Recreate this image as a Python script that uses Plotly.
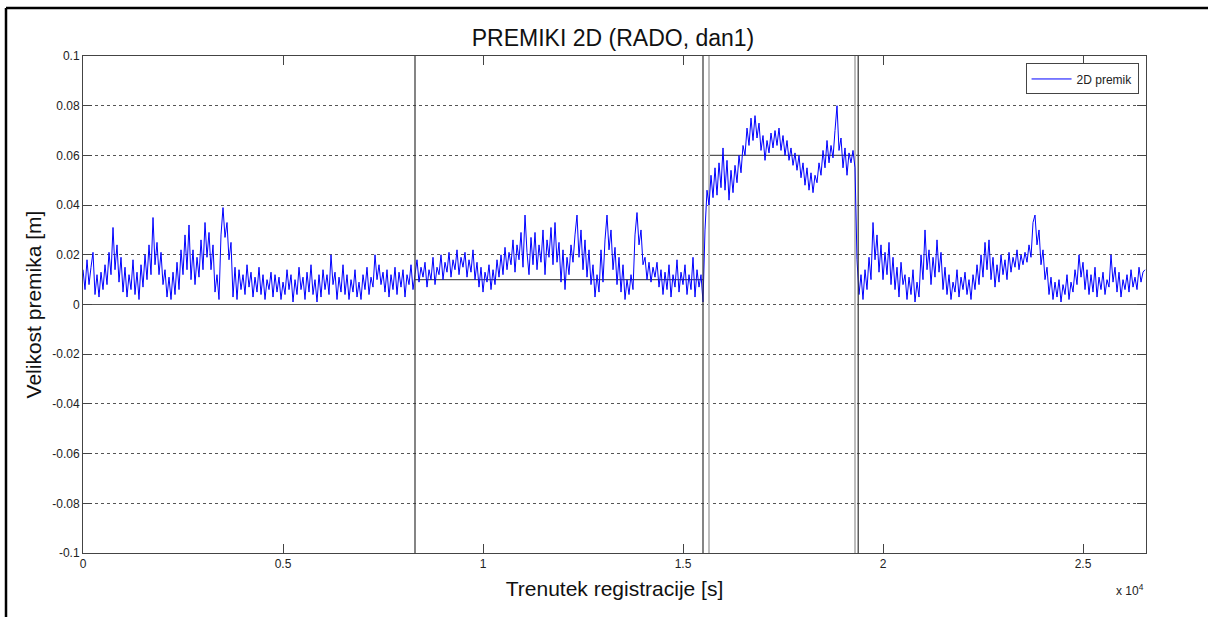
import numpy as np
import plotly.graph_objects as go

# ---- data ----
# sampling step of the displacement record [s]
STEP = 50

seg_a_start = 0
seg_a = [0.014, 0.006, 0.018, 0.008, 0.015, 0.021,
         0.004, 0.012, 0.003, 0.013, 0.006,
         0.016, 0.008, 0.021, 0.012, 0.031,
         0.014, 0.024, 0.009, 0.019, 0.005,
         0.015, 0.003, 0.012, 0.006, 0.018,
         0.004, 0.013, 0.002, 0.016, 0.007,
         0.020, 0.010, 0.024, 0.012, 0.035,
         0.016, 0.025, 0.012, 0.021, 0.008,
         0.014, 0.003, 0.011, 0.002, 0.013,
         0.004, 0.017, 0.006, 0.022, 0.012,
         0.028, 0.014, 0.032, 0.010, 0.022,
         0.008, 0.019, 0.011, 0.026, 0.014,
         0.033, 0.019, 0.029, 0.014, 0.024,
         0.005, 0.012, 0.002, 0.028, 0.039,
         0.027, 0.033, 0.018, 0.025, 0.003,
         0.015, 0.002, 0.014, 0.006, 0.012,
         0.004, 0.016, 0.007, 0.013, 0.003,
         0.011, 0.005, 0.015, 0.004, 0.012,
         0.002, 0.010, 0.006, 0.013, 0.003,
         0.012, 0.005, 0.011, 0.002, 0.009,
         0.004, 0.014, 0.006, 0.012, 0.001,
         0.010, 0.004, 0.015, 0.006, 0.011,
         0.002, 0.013, 0.005, 0.016, 0.004,
         0.010, 0.001, 0.012, 0.003, 0.014,
         0.006, 0.012, 0.004, 0.020, 0.008,
         0.013, 0.002, 0.011, 0.005, 0.016,
         0.004, 0.012, 0.002, 0.010, 0.005,
         0.014, 0.003, 0.009, 0.002, 0.012,
         0.006, 0.015, 0.004, 0.011, 0.007,
         0.020, 0.010, 0.016, 0.008, 0.013,
         0.005, 0.014, 0.003, 0.012, 0.006,
         0.015, 0.004, 0.013, 0.007, 0.014,
         0.003, 0.012, 0.008, 0.016, 0.006]

seg_b_start = 8300
seg_b = [0.012, 0.018, 0.009, 0.015, 0.011,
         0.017, 0.007, 0.014, 0.010, 0.019,
         0.008, 0.015, 0.012, 0.020, 0.010,
         0.017, 0.013, 0.021, 0.011, 0.018,
         0.014, 0.022, 0.012, 0.019, 0.015,
         0.021, 0.011, 0.018, 0.013, 0.022,
         0.010, 0.017, 0.007, 0.015, 0.005,
         0.013, 0.009, 0.016, 0.006, 0.014,
         0.008, 0.018, 0.011, 0.020, 0.012,
         0.023, 0.014, 0.021, 0.016, 0.026,
         0.013, 0.024, 0.018, 0.029, 0.015,
         0.036, 0.021, 0.012, 0.027, 0.016,
         0.029, 0.014, 0.024, 0.017, 0.030,
         0.012, 0.026, 0.019, 0.031, 0.016,
         0.033, 0.017, 0.025, 0.009, 0.022,
         0.006, 0.019, 0.012, 0.024, 0.017,
         0.028, 0.036, 0.019, 0.030, 0.014,
         0.026, 0.011, 0.022, 0.008, 0.016,
         0.003, 0.012, 0.005, 0.022, 0.009,
         0.026, 0.036, 0.022, 0.030, 0.014,
         0.023, 0.008, 0.019, 0.005, 0.016,
         0.002, 0.010, 0.004, 0.012, 0.006,
         0.028, 0.037, 0.024, 0.030, 0.016,
         0.019, 0.010, 0.017, 0.009, 0.015,
         0.011, 0.017, 0.007, 0.014, 0.004,
         0.013, 0.006, 0.016, 0.003, 0.012,
         0.007, 0.018, 0.005, 0.013, 0.008,
         0.016, 0.004, 0.012, 0.006, 0.019,
         0.003, 0.014, 0.007, 0.012, 0.001]

seg_c_start = 15550
seg_c = [0.030, 0.046, 0.040, 0.052, 0.043,
         0.055, 0.044, 0.057, 0.047, 0.063,
         0.046, 0.058, 0.042, 0.054, 0.045,
         0.056, 0.049, 0.060, 0.053, 0.064,
         0.060, 0.071, 0.064, 0.075, 0.066,
         0.076, 0.067, 0.073, 0.062, 0.068,
         0.058, 0.066, 0.061, 0.069, 0.063,
         0.070, 0.064, 0.071, 0.062, 0.068,
         0.060, 0.066, 0.058, 0.063, 0.056,
         0.061, 0.054, 0.060, 0.051, 0.057,
         0.048, 0.055, 0.046, 0.053, 0.045,
         0.052, 0.049, 0.057, 0.052, 0.062,
         0.055, 0.066, 0.057, 0.064, 0.059,
         0.070, 0.080, 0.062, 0.067, 0.055,
         0.063, 0.052, 0.061, 0.057, 0.062,
         0.055]

seg_d_start = 19350
seg_d = [0.018, 0.004, 0.012, 0.002, 0.014,
         0.006, 0.019, 0.010, 0.033, 0.018,
         0.028, 0.013, 0.024, 0.010, 0.021,
         0.012, 0.025, 0.008, 0.019, 0.006,
         0.015, 0.003, 0.017, 0.008, 0.012,
         0.002, 0.011, 0.004, 0.014, 0.001,
         0.009, 0.003, 0.020, 0.010, 0.030,
         0.014, 0.022, 0.008, 0.019, 0.011,
         0.026, 0.013, 0.021, 0.006, 0.015,
         0.004, 0.012, 0.002, 0.009, 0.005,
         0.014, 0.003, 0.011, 0.006, 0.013,
         0.004, 0.010, 0.002, 0.012, 0.006,
         0.016, 0.008, 0.020, 0.011, 0.025,
         0.014, 0.026, 0.010, 0.019, 0.007,
         0.016, 0.009, 0.020, 0.012, 0.018,
         0.010, 0.021, 0.013, 0.019, 0.015,
         0.022, 0.014, 0.020, 0.016, 0.021,
         0.017, 0.024, 0.019, 0.033, 0.036,
         0.024, 0.030, 0.016, 0.022, 0.010,
         0.015, 0.004, 0.011, 0.002, 0.009,
         0.003, 0.010, 0.001, 0.008, 0.004,
         0.012, 0.002, 0.009, 0.005, 0.014,
         0.008, 0.020, 0.011, 0.017, 0.006,
         0.014, 0.004, 0.012, 0.005, 0.015,
         0.003, 0.011, 0.006, 0.013, 0.004,
         0.010, 0.007, 0.020, 0.009, 0.015,
         0.005, 0.013, 0.003, 0.010, 0.006,
         0.012, 0.005, 0.014, 0.007, 0.011,
         0.006, 0.015, 0.009, 0.013, 0.014]

# reference levels between phase boundaries
dark_bounds = [8300, 15500, 19380]
grey_bounds = [15650, 19300]
level_x = [[0, 8300], [8300, 15500], [15650, 19380], [19380, 26575]]
level_y = [0.0, 0.01, 0.06, 0.0]

x_range = [0, 26575]
y_range = [-0.1, 0.1]
x_tickvals = [0, 5000, 10000, 15000, 20000, 25000]
x_ticktext = ["0", "0.5", "1", "1.5", "2", "2.5"]
y_tickvals = [0.1, 0.08, 0.06, 0.04, 0.02, 0, -0.02, -0.04, -0.06, -0.08, -0.1]
y_ticktext = ["0.1", "0.08", "0.06", "0.04", "0.02", "0", "-0.02", "-0.04", "-0.06", "-0.08", "-0.1"]

# ---- build figure ----
def times(start, vals):
    return start + STEP * np.arange(len(vals))

t = np.concatenate([times(seg_a_start, seg_a), times(seg_b_start, seg_b),
                    times(seg_c_start, seg_c), times(seg_d_start, seg_d)])
v = np.concatenate([seg_a, seg_b, seg_c, seg_d])

FONT = "Liberation Sans, Arial, sans-serif"
fig = go.Figure()

for xs, ly in zip(level_x, level_y):
    fig.add_trace(go.Scatter(x=xs, y=[ly, ly], mode="lines",
                             line=dict(color="#555555", width=1.2),
                             showlegend=False, hoverinfo="skip"))
for b in grey_bounds:
    fig.add_trace(go.Scatter(x=[b, b], y=y_range, mode="lines",
                             line=dict(color="#bdbdbd", width=2),
                             showlegend=False, hoverinfo="skip"))

fig.add_trace(go.Scatter(x=t, y=v, mode="lines", name="2D premik",
                         line=dict(color="#0000ff", width=1)))

for b in dark_bounds:
    fig.add_trace(go.Scatter(x=[b, b], y=y_range, mode="lines",
                             line=dict(color="#333333", width=1.2),
                             showlegend=False, hoverinfo="skip"))

axis_common = dict(showline=True, linecolor="#444444", linewidth=1, mirror="ticks",
                   ticks="inside", ticklen=9, tickcolor="#444444",
                   tickfont=dict(family=FONT, size=12, color="#222222"),
                   zeroline=False)

fig.update_xaxes(range=x_range, tickvals=x_tickvals, ticktext=x_ticktext,
                 showgrid=False,
                 title=dict(text="Trenutek registracije [s]",
                            font=dict(family=FONT, size=21, color="#111111"),
                            standoff=10),
                 **axis_common)
fig.update_yaxes(range=y_range, tickvals=y_tickvals, ticktext=y_ticktext,
                 showgrid=True, gridcolor="#555555", griddash="dot", gridwidth=1,
                 title=dict(text="Velikost premika [m]",
                            font=dict(family=FONT, size=21, color="#111111"),
                            standoff=4),
                 **axis_common)

fig.update_layout(
    width=1208, height=617,
    margin=dict(l=83, r=62, t=56, b=64),
    paper_bgcolor="white", plot_bgcolor="white",
    title=dict(text="PREMIKI 2D (RADO, dan1)", x=(613 - 0) / 1208, xanchor="center",
               y=1 - 38 / 617, yanchor="middle", yref="container",
               font=dict(family=FONT, size=23, color="#111111")),
    legend=dict(x=0.993, y=0.985, xanchor="right", yanchor="top",
                bgcolor="white", bordercolor="#444444", borderwidth=1,
                font=dict(family=FONT, size=12, color="#222222"),
                itemwidth=40),
    showlegend=True,
    annotations=[dict(text="x 10<sup>4</sup>", xref="paper", yref="paper",
                      x=1.0, y=-0.075, xanchor="right", yanchor="middle",
                      showarrow=False, font=dict(family=FONT, size=12, color="#222222"))],
    shapes=[
        dict(type="line", xref="paper", yref="paper",
             x0=(6 - 83) / 1063, x1=(1208 - 83) / 1063,
             y0=(553 - 8) / 497, y1=(553 - 8) / 497,
             line=dict(color="black", width=2.5)),
        dict(type="line", xref="paper", yref="paper",
             x0=(6 - 83) / 1063, x1=(6 - 83) / 1063,
             y0=(553 - 8) / 497, y1=(553 - 617) / 497,
             line=dict(color="black", width=2.5)),
    ],
)

fig.write_html("out.html")
